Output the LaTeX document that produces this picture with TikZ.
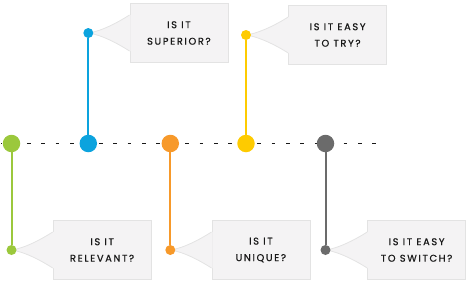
\documentclass[tikz,border=0pt]{standalone}
\usepackage{fontspec}
\usetikzlibrary{positioning}
\newfontfamily\tlfont[LetterSpace=17, FakeBold=0.9]{Poppins}
\definecolor{tlgreen}{HTML}{9BC83C}
\definecolor{tlblue}{HTML}{0CA3DE}
\definecolor{tlorange}{HTML}{F7992A}
\definecolor{tlyellow}{HTML}{FECB00}
\definecolor{tlgray}{HTML}{6B6B6B}
\definecolor{tlboxfill}{HTML}{F4F3F4}
\definecolor{tlboxline}{HTML}{E3E3E3}
\pgfdeclarelayer{background}
\pgfsetlayers{background,main}
\tikzset{
  tlbig/.style={circle, fill=#1, inner sep=0pt, minimum size=17.5pt},
  tldot/.style={circle, fill=#1, inner sep=0pt, minimum size=10pt},
  tlstem/.style={draw=#1, line width=2pt},
  tldash/.style={draw=black!90, line width=1.1pt, dash pattern=on 3.8pt off 10.6pt, dash phase=3pt},
  tlbox/.style={fill=tlboxfill, draw=tlboxline, line width=0.8pt, minimum width=98pt,
    minimum height=59pt, inner sep=0pt, align=center, text=black!90,
    font={\tlfont\fontsize{9.8}{16.5}\selectfont}},
  tlflap/.style={fill=tlboxfill},
  tlflapline/.style={draw=tlboxline, line width=0.8pt},
}
% flap of a callout: #1 dot, #2 box
\newcommand{\tlflag}[2]{%
  \fill[tlflap] ([yshift=18pt]#2.west)
    .. controls ([xshift=-11pt,yshift=11pt]#2.west) and ([xshift=14pt,yshift=2pt]#1.center) .. (#1.center)
    .. controls ([xshift=14pt,yshift=-2pt]#1.center) and ([xshift=-11pt,yshift=-11pt]#2.west) .. ([yshift=-18pt]#2.west)
    -- ([xshift=1.2pt,yshift=-18pt]#2.west) -- ([xshift=1.2pt,yshift=18pt]#2.west) -- cycle;
  \draw[tlflapline] ([yshift=18pt]#2.west)
    .. controls ([xshift=-11pt,yshift=11pt]#2.west) and ([xshift=14pt,yshift=2pt]#1.center) .. (#1.center)
    .. controls ([xshift=14pt,yshift=-2pt]#1.center) and ([xshift=-11pt,yshift=-11pt]#2.west) .. ([yshift=-18pt]#2.west);
}

\begin{document}
\begin{tikzpicture}[x=1pt, y=-1pt]
  \useasboundingbox (0,0) rectangle (467,282);
  \coordinate (dashstart) at (1,143.5);
  \coordinate (dashend) at (381,143.5);
  \draw[tldash] (dashstart) -- (dashend);

  % timeline
  \node[tlbig=tlgreen] (bgrel) at (11.5,143.5) {};
  \node[tlbig=tlblue] (bgsup) at (88.3,143.5) {};
  \node[tlbig=tlorange] (bguni) at (170.3,143.5) {};
  \node[tlbig=tlyellow] (bgtry) at (246,143.5) {};
  \node[tlbig=tlgray] (bgswi) at (325.5,143.5) {};

  \node[tldot=tlblue] (sdsup) at (88.3,33) {};
  \node[tldot=tlyellow] (sdtry) at (246,35) {};
  \node[tldot=tlgreen] (sdrel) at (11.5,250) {};
  \node[tldot=tlorange] (sduni) at (170.3,250) {};
  \node[tldot=tlgray] (sdswi) at (325.5,250) {};

  \draw[tlstem=tlblue] (bgsup) -- (sdsup);
  \draw[tlstem=tlyellow] (bgtry) -- (sdtry);
  \draw[tlstem=tlgreen] (bgrel) -- (sdrel);
  \draw[tlstem=tlorange] (bguni) -- (sduni);
  \draw[tlstem=tlgray] (bgswi) -- (sdswi);

  % callouts
  \begin{pgfonlayer}{background}
    \node[tlbox, right=36pt of sdsup] (bxsup) {IS IT\\SUPERIOR?};
    \node[tlbox, right=37pt of sdtry] (bxtry) {IS IT EASY\\TO TRY?};
    \node[tlbox, right=36pt of sdrel] (bxrel) {IS IT\\RELEVANT?};
    \node[tlbox, right=36pt of sduni] (bxuni) {IS IT\\UNIQUE?};
    \node[tlbox, right=36.5pt of sdswi] (bxswi) {IS IT EASY\\TO SWITCH?};

    \tlflag{sdsup}{bxsup}
    \tlflag{sdtry}{bxtry}
    \tlflag{sdrel}{bxrel}
    \tlflag{sduni}{bxuni}
    \tlflag{sdswi}{bxswi}
  \end{pgfonlayer}
\end{tikzpicture}
\end{document}
